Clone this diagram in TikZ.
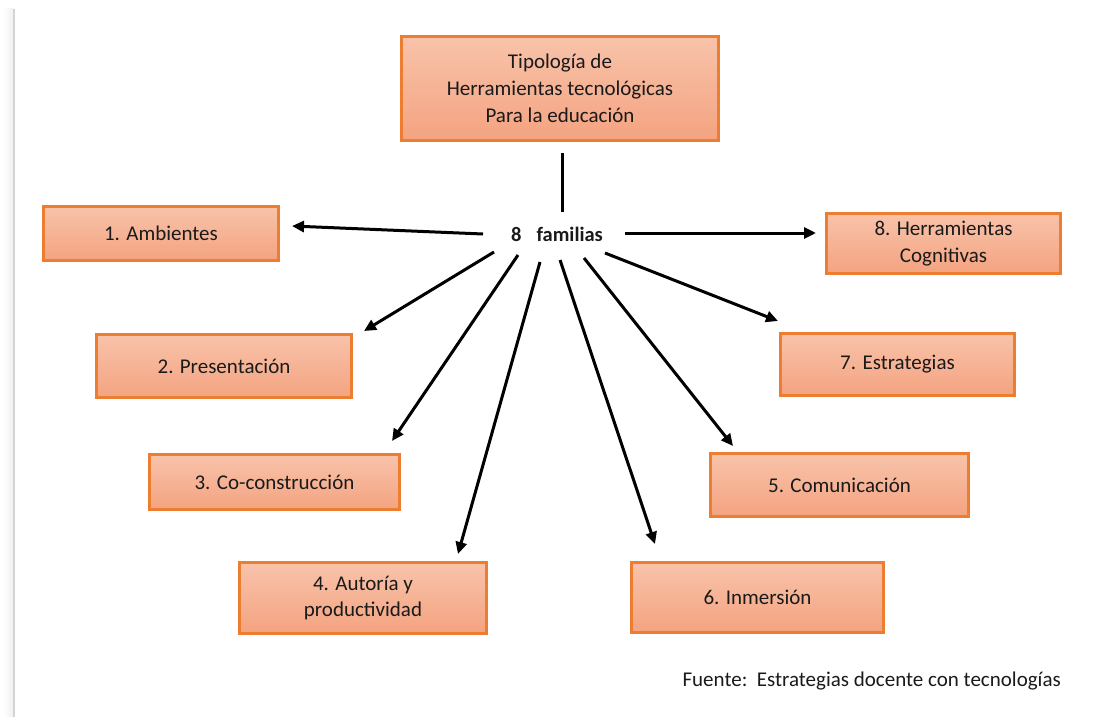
\documentclass[tikz,border=0pt]{standalone}
\usepackage{fontspec}
\setmainfont{Carlito}
\usetikzlibrary{arrows.meta}
\definecolor{obord}{HTML}{ED7D31}
\definecolor{otop}{HTML}{F8C3AA}
\definecolor{obot}{HTML}{F4A380}
\definecolor{txt}{HTML}{1A1A1A}
\tikzset{
  box/.style={draw=obord, line width=3pt, top color=otop, bottom color=obot,
    inner sep=0pt, align=center, text=txt, font=\fontsize{21}{26.8}\selectfont},
  arr/.style={line width=3pt, -{Triangle[length=12pt,width=11pt]}},
}
\begin{document}
\begin{tikzpicture}[x=1pt,y=-1pt]
\useasboundingbox (0,0) rectangle (1116,717);
\fill[left color=white, right color=black!6] (3,9) rectangle (13,717);
\draw[black!17, line width=2pt] (14,9) -- (14,717);

\node[box, minimum width=317pt, minimum height=104pt] (top) at (560,88.5)
  {Tipología de\\Herramientas tecnológicas\\Para la educación};
\node[box, minimum width=235pt, minimum height=54pt] (b1) at (161,233.5) {1. Ambientes};
\node[box, minimum width=234pt, minimum height=60pt] (b8) at (943.5,243.5) {8. Herramientas\\Cognitivas};
\node[box, minimum width=255pt, minimum height=63pt] (b2) at (224,366) {2. Presentación};
\node[box, minimum width=234pt, minimum height=62pt] (b7) at (897.5,364.5) {7. Estrategias};
\node[box, minimum width=250pt, minimum height=55pt] (b3) at (274.5,482) {3. Co-construcción};
\node[box, minimum width=258pt, minimum height=63pt] (b5) at (839.5,485) {5. Comunicación};
\node[box, minimum width=247pt, minimum height=71pt] (b4) at (363,598) {4. Autoría y\\productividad};
\node[box, minimum width=252pt, minimum height=70pt] (b6) at (757.5,597.5) {6. Inmersión};

\node[font=\fontsize{20.5}{24}\selectfont\bfseries, text=txt] (fam) at (557,234) {8\hspace{15pt}familias};

\node[anchor=west, font=\fontsize{21}{24}\selectfont, text=txt] (src) at (679,681) {Fuente:\ \ Estrategias docente con tecnologías};

\coordinate (v0) at (562,153);
\coordinate (v1) at (562,212);
\draw[line width=3pt] (v0) -- (v1);

\coordinate (s1) at (483,234); \coordinate (e1) at (292,226);
\coordinate (s8) at (625,233); \coordinate (e8) at (816,233);
\coordinate (s2) at (494,252); \coordinate (e2) at (364,331);
\coordinate (s7) at (605,253); \coordinate (e7) at (778,321);
\coordinate (s3) at (518,255); \coordinate (e3) at (392,441);
\coordinate (s5) at (584,258); \coordinate (e5) at (733,446);
\coordinate (s4) at (540,262); \coordinate (e4) at (458,554);
\coordinate (s6) at (560,260); \coordinate (e6) at (655,544);
\foreach \i in {1,8,2,7,3,5,4,6} { \draw[arr] (s\i) -- (e\i); }
\end{tikzpicture}
\end{document}
